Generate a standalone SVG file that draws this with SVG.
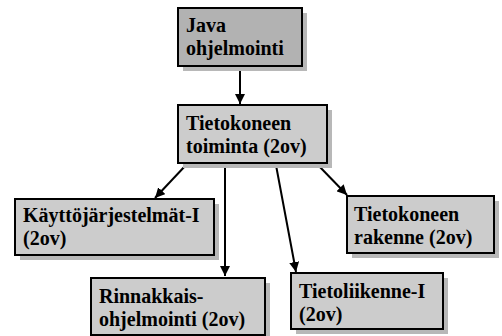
<svg xmlns="http://www.w3.org/2000/svg" width="502" height="336" viewBox="0 0 502 336">
<style>
.sh{fill:#b8b8b8;}
.bx{fill:#cccccc;stroke:#000;stroke-width:2;}
.c{stroke:#000;stroke-width:2;fill:none;marker-end:url(#ah);}
</style>
<defs>
<marker id="ah" viewBox="0 0 10 10" refX="10" refY="5" markerWidth="5" markerHeight="5" orient="auto" markerUnits="strokeWidth">
<path d="M0,0 L10,5 L0,10 z" fill="#000"/>
</marker>
</defs>
<rect width="502" height="336" fill="#fff"/>
<g id="connectors">
<line class="c" x1="240" y1="67" x2="240" y2="104"/>
<line class="c" x1="186" y1="165" x2="155" y2="198"/>
<line class="c" x1="225" y1="165" x2="225" y2="276"/>
<line class="c" x1="276" y1="165" x2="296" y2="272"/>
<line class="c" x1="318" y1="165" x2="347" y2="195"/>
</g>
<g font-family="Liberation Serif, Times New Roman, serif" font-weight="bold" font-size="20" fill="#000">
<g id="java">
<rect class="sh" x="183" y="13" width="124" height="58"/>
<rect class="bx" x="178" y="8" width="124" height="58" style="fill:#b2b2b2"/>
<text x="186" y="32">Java</text>
<text x="186" y="55">ohjelmointi</text>
</g>
<g id="toiminta">
<rect class="sh" x="183" y="110" width="149" height="58"/>
<rect class="bx" x="178" y="105" width="149" height="58"/>
<text x="186" y="130">Tietokoneen</text>
<text x="186" y="153">toiminta (2ov)</text>
</g>
<g id="kayttojarjestelmat">
<rect class="sh" x="20" y="204" width="199" height="56"/>
<rect class="bx" x="15" y="199" width="199" height="56"/>
<text x="23" y="222">Käyttöjärjestelmät-I</text>
<text x="23" y="245">(2ov)</text>
</g>
<g id="rakenne">
<rect class="sh" x="352" y="201" width="147" height="57"/>
<rect class="bx" x="347" y="196" width="147" height="57"/>
<text x="354" y="221">Tietokoneen</text>
<text x="354" y="244">rakenne (2ov)</text>
</g>
<g id="rinnakkais">
<rect class="sh" x="96" y="283" width="174" height="57"/>
<rect class="bx" x="91" y="278" width="174" height="57"/>
<text x="99" y="303">Rinnakkais-</text>
<text x="99" y="326">ohjelmointi (2ov)</text>
</g>
<g id="tietoliikenne">
<rect class="sh" x="296" y="278" width="152" height="56"/>
<rect class="bx" x="291" y="273" width="152" height="56"/>
<text x="299" y="298">Tietoliikenne-I</text>
<text x="299" y="321">(2ov)</text>
</g>
</g>
</svg>
